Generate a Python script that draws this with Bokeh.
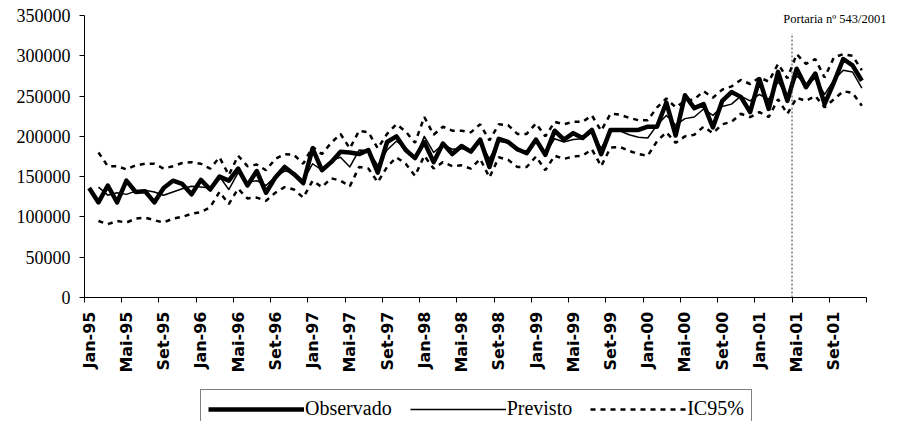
import math
from bokeh.plotting import figure
from bokeh.layouts import column
from bokeh.models import (Range1d, FixedTicker, BasicTickFormatter, Legend,
                          LegendItem, Label, ColumnDataSource)
from bokeh.embed import file_html
from bokeh.resources import INLINE

# ---------------- data ----------------
TICK_LABELS = ["Jan-95", "Mai-95", "Set-95", "Jan-96", "Mai-96", "Set-96",
               "Jan-97", "Mai-97", "Set-97", "Jan-98", "Mai-98", "Set-98",
               "Jan-99", "Mai-99", "Set-99", "Jan-00", "Mai-00", "Set-00",
               "Jan-01", "Mai-01", "Set-01"]
N_MONTHS = 84
TICK_EVERY = 4

OBSERVADO = [
    136000, 118000, 139000, 118000, 145000, 131000, 132000, 118000, 136000, 145000,
    141000, 128000, 146000, 134000, 150000, 145000, 160000, 139000, 157000, 130000,
    149000, 162000, 153000, 142000, 185000, 158000, 168000, 181000, 180000, 178000,
    183000, 155000, 193000, 200000, 183000, 173000, 193000, 168000, 191000, 178000,
    188000, 181000, 196000, 162000, 197000, 193000, 184000, 179000, 196000, 177000,
    207000, 196000, 204000, 198000, 208000, 178000, 208000, 208000, 208000, 208000,
    212000, 212000, 242000, 201000, 251000, 235000, 240000, 211000, 244000, 255000,
    249000, 230000, 271000, 234000, 280000, 244000, 284000, 261000, 278000, 240000,
    267000, 296000, 288000, 269000]

PREVISTO = [
    None, 137000, 127000, 130000, 128000, 132000, 133000, 131000, 127000, 131000,
    135000, 138000, 137000, 136000, 150000, 134000, 155000, 143000, 145000, 139000,
    150000, 157000, 155000, 145000, 166000, 158000, 170000, 174000, 162000, 183000,
    182000, 164000, 183000, 194000, 186000, 172000, 200000, 180000, 190000, 184000,
    185000, 182000, 193000, 172000, 194000, 192000, 182000, 182000, 195000, 179000,
    197000, 193000, 196000, 197000, 205000, 185000, 206000, 207000, 202000, 199000,
    198000, 214000, 226000, 214000, 222000, 224000, 234000, 226000, 237000, 240000,
    250000, 244000, 252000, 246000, 268000, 250000, 275000, 265000, 272000, 252000,
    270000, 282000, 280000, 260000]

IC_SUP = [
    None, 180000, 163000, 163000, 159000, 164000, 166000, 166000, 160000, 163000,
    167000, 168000, 166000, 160000, 174000, 152000, 176000, 163000, 165000, 158000,
    172000, 178000, 177000, 166000, 187000, 178000, 192000, 203000, 185000, 207000,
    205000, 185000, 203000, 215000, 206000, 192000, 224000, 202000, 212000, 207000,
    207000, 205000, 215000, 195000, 215000, 214000, 203000, 203000, 216000, 200000,
    218000, 215000, 218000, 218000, 226000, 207000, 228000, 227000, 223000, 220000,
    220000, 236000, 247000, 236000, 244000, 246000, 256000, 248000, 258000, 262000,
    270000, 265000, 273000, 268000, 290000, 272000, 302000, 290000, 296000, 273000,
    298000, 302000, 300000, 282000]

IC_INF = [
    None, 95000, 91000, 95000, 93000, 98000, 99000, 96000, 93000, 98000,
    100000, 104000, 106000, 112000, 131000, 116000, 135000, 123000, 124000, 120000,
    130000, 137000, 134000, 124000, 145000, 137000, 148000, 145000, 138000, 162000,
    160000, 143000, 162000, 174000, 166000, 151000, 176000, 160000, 168000, 163000,
    164000, 160000, 172000, 149000, 174000, 171000, 162000, 162000, 175000, 158000,
    176000, 172000, 175000, 176000, 184000, 163000, 186000, 187000, 182000, 178000,
    176000, 194000, 205000, 192000, 200000, 202000, 212000, 204000, 215000, 218000,
    228000, 224000, 230000, 224000, 246000, 228000, 248000, 244000, 250000, 236000,
    246000, 256000, 254000, 238000]

Y_TICKS = [0, 50000, 100000, 150000, 200000, 250000, 300000, 350000]
Y_MAX = 350000
PORTARIA_MES = 76          # Mai-01
PORTARIA_TOPO = 328000
PORTARIA_TEXTO = "Portaria nº 543/2001"

# ---------------- layout constants (pixels) ----------------
W = 888
H_MAIN = 385
H_LEG = 36
FRAME_LEFT = 84
AXIS_RIGHT = 866           # end of the x axis
AXIS_TOP = 15              # pixel row of Y_MAX
AXIS_BOTTOM = 297          # pixel row of 0
LEGEND_LEFT = 200

px_per_month = (AXIS_RIGHT - FRAME_LEFT) / N_MONTHS
X_END = -0.5 + (W - FRAME_LEFT) / px_per_month
Y_TOP = Y_MAX * AXIS_BOTTOM / (AXIS_BOTTOM - AXIS_TOP)


def nan(v):
    return float("nan") if v is None else v


src = ColumnDataSource(dict(
    x=list(range(N_MONTHS)),
    obs=OBSERVADO,
    prev=[nan(v) for v in PREVISTO],
    sup=[nan(v) for v in IC_SUP],
    inf=[nan(v) for v in IC_INF],
))

p = figure(width=W, height=H_MAIN, output_backend="svg", toolbar_location=None,
           x_range=Range1d(-0.5, X_END), y_range=Range1d(0, Y_TOP),
           min_border_left=FRAME_LEFT, min_border_right=0, min_border_top=0,
           min_border_bottom=H_MAIN - AXIS_BOTTOM)
p.outline_line_color = None
p.grid.visible = False
p.background_fill_color = "white"
p.border_fill_color = "white"

# ---- axes ----
xa = p.xaxis[0]
major = list(range(0, N_MONTHS, TICK_EVERY))
xa.ticker = FixedTicker(ticks=major,
                        minor_ticks=[k - 0.5 for k in range(0, N_MONTHS + 1, TICK_EVERY)])
xa.bounds = (-0.5, N_MONTHS - 0.5)
xa.major_label_overrides = {k: lab for k, lab in zip(major, TICK_LABELS)}
xa.major_tick_out = 0
xa.major_tick_in = 0
xa.minor_tick_out = 5
xa.minor_tick_in = 0
xa.minor_tick_line_color = "black"
xa.axis_line_color = "black"
xa.major_label_orientation = math.pi / 2
xa.major_label_standoff = 9
xa.major_label_text_font = "DejaVu Sans"
xa.major_label_text_font_style = "bold"
xa.major_label_text_font_size = "16px"
xa.major_label_text_color = "black"

ya = p.yaxis[0]
ya.ticker = FixedTicker(ticks=Y_TICKS)
ya.bounds = (0, Y_MAX)
ya.formatter = BasicTickFormatter(use_scientific=False)
ya.major_tick_out = 5
ya.major_tick_in = 0
ya.minor_tick_out = 0
ya.minor_tick_in = 0
ya.axis_line_color = "black"
ya.major_tick_line_color = "black"
ya.major_label_standoff = 9
ya.major_label_text_font = "Liberation Serif"
ya.major_label_text_font_size = "18px"
ya.major_label_text_color = "black"

# ---- series ----
STYLE_IC = dict(color="black", line_width=2.5, line_dash="5 5")
STYLE_PREV = dict(color="black", line_width=1.5, line_join="round")
STYLE_OBS = dict(color="black", line_width=4.5, line_join="round")

p.line("x", "sup", source=src, **STYLE_IC)
p.line("x", "inf", source=src, **STYLE_IC)
p.line("x", "prev", source=src, **STYLE_PREV)
p.line("x", "obs", source=src, **STYLE_OBS)

p.segment(x0=[PORTARIA_MES - 0.5], y0=[0], x1=[PORTARIA_MES - 0.5], y1=[PORTARIA_TOPO],
          color="#333333", line_width=1, line_dash="2 2")

p.add_layout(Label(x=W - 2 - FRAME_LEFT, y=AXIS_BOTTOM - 18, x_units="screen", y_units="screen",
                   text=PORTARIA_TEXTO, text_align="right", text_baseline="alphabetic",
                   text_font="Liberation Serif", text_font_size="12.5px",
                   text_color="black"))

# ---------------- legend strip ----------------
# The strip shares the same data source; its ranges keep the lines themselves out of
# view so that only the legend (with the series' own line styles) is shown.
p2 = figure(width=W, height=H_LEG, output_backend="svg", toolbar_location=None,
            x_range=Range1d(0, 1), y_range=Range1d(0, 1),
            x_axis_location=None, y_axis_location=None, min_border=0)
p2.outline_line_color = None
p2.grid.visible = False
p2.background_fill_color = "white"
p2.border_fill_color = "white"

e_obs = p2.line("x", "obs", source=src, **STYLE_OBS)
e_prev = p2.line("x", "prev", source=src, **STYLE_PREV)
e_ic = p2.line("x", "sup", source=src, **STYLE_IC)

legend = Legend(items=[LegendItem(label="Observado", renderers=[e_obs], index=0),
                       LegendItem(label="Previsto", renderers=[e_prev], index=1),
                       LegendItem(label="IC95%", renderers=[e_ic], index=1)],
                orientation="horizontal", location=(LEGEND_LEFT - FRAME_LEFT, -7),
                glyph_width=96, glyph_height=20, label_standoff=1, spacing=18,
                padding=7, margin=0,
                label_text_font="Liberation Serif", label_text_font_size="20px",
                label_text_color="black",
                border_line_color="black", border_line_width=1,
                background_fill_color="white", background_fill_alpha=1)
p2.add_layout(legend)

layout = column(p, p2, spacing=0)
open("out.html", "w").write(file_html(layout, INLINE))
